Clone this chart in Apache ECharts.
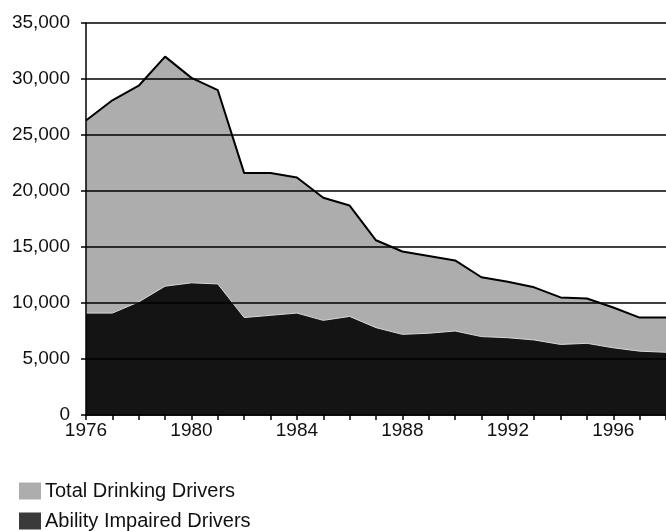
<!DOCTYPE html>
<html>
<head>
<meta charset="utf-8">
<script src="https://cdn.jsdelivr.net/npm/echarts@6/dist/echarts.min.js"></script>
<style>
  html, body { margin: 0; padding: 0; background: #fff; }
  #chart { width: 666px; height: 531px; }
</style>
</head>
<body>
<div id="chart"></div>
<script>
  // years on the x axis
  const years = ['1976','1977','1978','1979','1980','1981','1982','1983','1984','1985','1986',
                 '1987','1988','1989','1990','1991','1992','1993','1994','1995','1996','1997','1998'];
  // Total Drinking Drivers
  const totalDrinking = [26300, 28100, 29400, 32000, 30100, 29000, 21600, 21600, 21200, 19400, 18700,
                         15600, 14600, 14200, 13800, 12300, 11900, 11400, 10500, 10400, 9600, 8700, 8700];
  // Ability Impaired Drivers
  const abilityImpaired = [9100, 9100, 10100, 11500, 11800, 11700, 8700, 8900, 9100, 8450, 8800,
                           7800, 7200, 7300, 7500, 7000, 6900, 6700, 6300, 6400, 6000, 5700, 5600];

  const font = "'Liberation Sans', Arial, sans-serif";

  // one legend per line so they stack under the chart
  const legendBase = {
    left: 14,
    icon: 'rect',
    itemWidth: 22,
    itemHeight: 17,
    textStyle: { fontFamily: font, fontSize: 20, color: '#111', padding: [0, 0, 0, -1] }
  };

  const chart = echarts.init(document.getElementById('chart'));
  const option = {
    animation: false,
    grid: { left: 86, top: 23, bottom: 116, right: -10, containLabel: false },
    legend: [
      Object.assign({ top: 476, data: ['Total Drinking Drivers'] }, legendBase),
      Object.assign({ top: 506, data: ['Ability Impaired Drivers'] }, legendBase)
    ],
    xAxis: {
      type: 'category',
      data: years,
      boundaryGap: false,
      axisLine: { lineStyle: { color: '#000', width: 1.5 } },
      axisTick: { show: true, interval: 0, length: 5, lineStyle: { color: '#000', width: 1.5 } },
      axisLabel: { interval: 3, margin: 6, color: '#111', fontFamily: font, fontSize: 19 },
      splitLine: { show: false }
    },
    yAxis: {
      type: 'value',
      min: 0,
      max: 35000,
      interval: 5000,
      z: 10,
      axisLine: { show: true, lineStyle: { color: '#000', width: 1.5 } },
      axisTick: { show: true, length: 5, lineStyle: { color: '#000', width: 1.5 } },
      axisLabel: {
        margin: 16, color: '#111', fontFamily: font, fontSize: 19,
        formatter: v => v.toLocaleString('en-US')
      },
      splitLine: { show: true, lineStyle: { color: '#000', width: 1.5 } }
    },
    series: [
      {
        name: 'Total Drinking Drivers',
        type: 'line',
        data: totalDrinking,
        showSymbol: false,
        itemStyle: { color: '#adadad' },
        lineStyle: { color: '#000', width: 2 },
        areaStyle: { color: '#adadad', opacity: 1 }
      },
      {
        name: 'Ability Impaired Drivers',
        type: 'line',
        data: abilityImpaired,
        showSymbol: false,
        itemStyle: { color: '#3a3a3a' },
        lineStyle: { color: '#d8d8d8', width: 1 },
        areaStyle: { color: '#141414', opacity: 1 }
      }
    ]
  };
  chart.setOption(option);
</script>
</body>
</html>
